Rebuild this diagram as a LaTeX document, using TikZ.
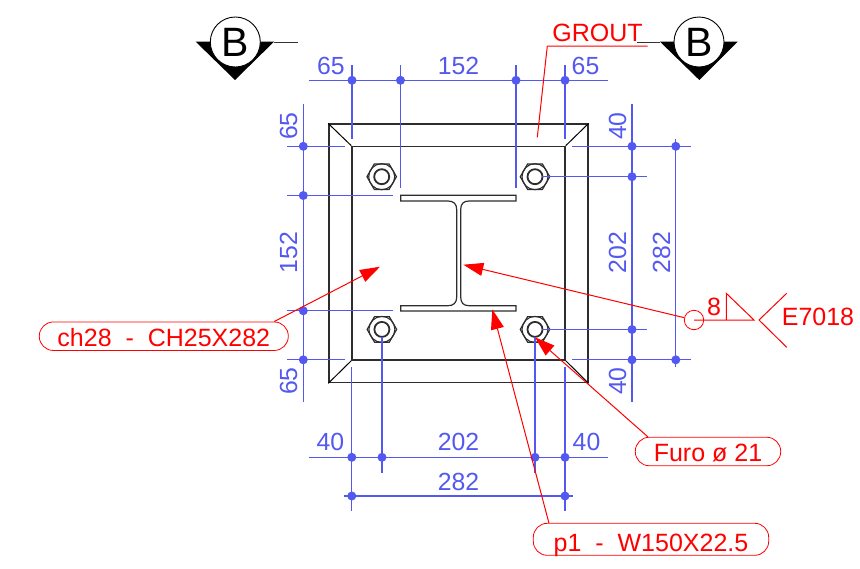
\documentclass[tikz,border=0pt]{standalone}
\usepackage{fontspec}
\setmainfont{Liberation Sans}
\usetikzlibrary{arrows.meta,shapes.geometric}
\definecolor{dimblue}{RGB}{82,88,240}
\definecolor{steelline}{RGB}{45,45,45}
\tikzset{
dimline/.style={draw=dimblue,line width=1.3pt},
dimdot/.style={circle,fill=dimblue,inner sep=0pt,minimum size=9pt},
dimtext/.style={text=dimblue,inner sep=0pt,font=\fontsize{24.8}{24}\selectfont},
platebox/.style={draw=steelline,line width=1.5pt,inner sep=0pt},
platedge/.style={draw=black,line width=1pt},
nuthex/.style={regular polygon,regular polygon sides=6,draw=steelline,line width=1.2pt,inner sep=0pt,minimum size=29.5pt},
nutring/.style={circle,draw=steelline,inner sep=0pt},
bolt/.pic={
  \node[nuthex] (-hex) {};
  \node[nutring,line width=1.1pt,minimum size=26pt] (-chamfer) {};
  \node[nutring,line width=1.8pt,minimum size=15pt] (-hole) {};
},
redline/.style={draw=red,line width=1pt},
leader/.style={redline,-{Triangle[length=20pt,width=13pt]}},
calloutbox/.style={draw=red,line width=.8pt,rounded corners=14pt,inner sep=0pt,minimum height=28.5pt,text height=20pt,text depth=0pt,text=red,font=\fontsize{25}{24}\selectfont},
redtext/.style={text=red,inner sep=0pt,font=\fontsize{25}{24}\selectfont},
secmark/.style={circle,draw=black,fill=white,line width=.9pt,inner sep=0pt,minimum size=50pt,font=\fontsize{41}{41}\selectfont},
}
\begin{document}
\begin{tikzpicture}[x=1pt,y=-1pt]
        \useasboundingbox (0,0) rectangle (860,568);

        \node[platebox,minimum width=258.8pt,minimum height=258.4pt] (outer) at (458.4,253.4) {};
        \node[platebox,minimum width=213pt,minimum height=213.6pt]   (inner) at (458.5,253.2) {};
        \path[platedge] (outer.north west) edge (inner.north west)
                        (outer.north east) edge (inner.north east)
                        (outer.south west) edge (inner.south west)
                        (outer.south east) edge (inner.south east);

        \draw[draw=steelline,line width=1.2pt] (400.7,195.3) -- (516,195.3) -- (516,201) -- (469,201)
          .. controls (463.5,201) and (460.7,203.8) .. (460.7,209.5) -- (460.7,297)
          .. controls (460.7,302.8) and (463.5,305.7) .. (469,305.7) -- (516,305.7) -- (516,311)
          -- (400.7,311) -- (400.7,305.7) -- (448,305.7)
          .. controls (453.5,305.7) and (456.7,302.8) .. (456.7,297) -- (456.7,209.5)
          .. controls (456.7,203.8) and (453.5,201) .. (448,201) -- (400.7,201) -- cycle;

        \pic (boltA) at (381.7,176.7) {bolt};
        \pic (boltB) at (535,176.7)   {bolt};
        \pic (boltC) at (381.9,329.4) {bolt};
        \pic (boltD) at (535,329.4)   {bolt};

        \node[dimdot] (dT1) at (352,80.3)  {};
        \node[dimdot] (dT2) at (400.5,80.3) {};
        \node[dimdot] (dT3) at (516,80.3)  {};
        \node[dimdot] (dT4) at (565,80.3)  {};
        \node[dimdot] (dL1) at (303.3,146.3) {};
        \node[dimdot] (dL2) at (303.3,195.5) {};
        \node[dimdot] (dL3) at (303.3,310.8) {};
        \node[dimdot] (dL4) at (303.3,359.8) {};
        \node[dimdot] (dR1) at (632,146.3) {};
        \node[dimdot] (dR2) at (632,176.7) {};
        \node[dimdot] (dR3) at (632,329.5) {};
        \node[dimdot] (dR4) at (632,359.8) {};
        \node[dimdot] (dO1) at (675.8,146.3) {};
        \node[dimdot] (dO2) at (675.8,359.8) {};
        \node[dimdot] (dB1) at (351.8,457.3) {};
        \node[dimdot] (dB2) at (382,457.3)   {};
        \node[dimdot] (dB3) at (535,457.3)   {};
        \node[dimdot] (dB4) at (565,457.3)   {};
        \node[dimdot] (dE1) at (351.8,496)   {};
        \node[dimdot] (dE2) at (565,496)     {};

        \draw[dimline] (dT1) ++(-43,0) -- ++(299,0);
        \draw[dimline] (dT1) ++(0,-15) -- ++(0,74);
        \draw[dimline] (dT2) ++(0,-15) -- ++(0,123);
        \draw[dimline] (dT3) ++(0,-15) -- ++(0,123);
        \draw[dimline] (dT4) ++(0,-15) -- ++(0,74);

        \draw[dimline] (dL1) ++(0,-42) -- ++(0,298);
        \draw[dimline] (dL1) ++(-16,0) -- ++(58,0);
        \draw[dimline] (dL2) ++(-16,0) -- ++(106,0);
        \draw[dimline] (dL3) ++(-16,0) -- ++(106,0);
        \draw[dimline] (dL4) ++(-16,0) -- ++(58,0);

        \draw[dimline] (dR1) ++(0,-42) -- ++(0,298);
        \draw[dimline] (dO1) ++(0,-7)  -- ++(0,228);
        \draw[dimline] (dO1) ++(-104,0) -- ++(119,0);
        \draw[dimline] (dO2) ++(-104,0) -- ++(119,0);
        \draw[dimline] (dR2) ++(-90.5,0) -- ++(105.5,0);
        \draw[dimline] (dR3) ++(-90.5,0) -- ++(105.5,0);

        \draw[dimline] (dB1) ++(-43,0) -- ++(299,0);
        \draw[dimline] (dE1) ++(-8,0)  -- ++(229,0);
        \draw[dimline] (dB1) ++(0,-90)  -- ++(0,144);
        \draw[dimline] (dB4) ++(0,-90)  -- ++(0,144);
        \draw[dimline] (dB2) ++(0,-120) -- ++(0,136);
        \draw[dimline] (dB3) ++(0,-120) -- ++(0,136);

        \node[dimtext] (topA)   at (331,66)  {65};
        \node[dimtext] (topB)   at (458.5,66) {152};
        \node[dimtext] (topC)   at (585.5,66) {65};
        \node[dimtext,rotate=90] (leftA) at (288.5,126) {65};
        \node[dimtext,rotate=90] (leftB) at (288.5,252.5) {152};
        \node[dimtext,rotate=90] (leftC) at (288.5,381) {65};
        \node[dimtext,rotate=90] (rightA) at (617.5,126) {40};
        \node[dimtext,rotate=90] (rightB) at (617.5,252.5) {202};
        \node[dimtext,rotate=90] (rightC) at (617.5,381) {40};
        \node[dimtext,rotate=90] (farB)   at (661.5,252.5) {282};
        \node[dimtext] (botA)   at (330.5,442) {40};
        \node[dimtext] (botB)   at (458.5,442) {202};
        \node[dimtext] (botC)   at (586.5,442) {40};
        \node[dimtext] (botD)   at (458.5,481.5) {282};

        \draw[draw=black!80,line width=.8pt] (274,42) -- (298,42);
        \draw[draw=black!80,line width=.8pt] (636.7,42) -- (660,42);
        \fill[black] (195.7,41.7) -- (274,41.7) -- (235,80) -- cycle;
        \fill[black] (660,41.7) -- (737.7,41.7) -- (699.3,80) -- cycle;
        \node[secmark] (secL) at (235.3,42) {B};
        \node[secmark] (secR) at (699,42)   {B};

        \coordinate (plateTip)  at (380,266.7);
        \coordinate (webTip)    at (463.3,264.7);
        \coordinate (flangeTip) at (492.3,309.3);
        \coordinate (holeTip)   at (535,337.3);
        \coordinate (groutTip)  at (537.3,137.3);
        \coordinate (groutElb)  at (547.3,46);
        \coordinate (groutEnd)  at (647.5,46);
        \coordinate (weldHeel)  at (726.3,320);
        \coordinate (weldTop)   at (726.3,293.3);
        \coordinate (weldToe)   at (754,320);
        \coordinate (forkRoot)  at (759,320);
        \coordinate (forkUp)    at (786.7,293.3);
        \coordinate (forkDown)  at (786.7,347.3);

        \node[calloutbox,minimum width=249pt] (ch28) at (163.8,336.2) {ch28~~-~~CH25X282};
        \node[calloutbox,minimum width=145.4pt] (furo) at (708,451.5) {Furo ø 21};
        \node[calloutbox,minimum width=235.4pt,minimum height=32pt,text height=24.8pt] (p1) at (651,539.3) {p1~~-~~W150X22.5};
        \node[circle,draw=red,line width=.8pt,inner sep=0pt,minimum size=19.4pt] (weldRing) at (694,320) {};

        \draw[leader] (ch28.north east) ++(-14.5,0) -- (plateTip);
        \draw[leader] (furo.north west) ++(13,0) -- (holeTip);
        \draw[leader] (p1.north west) ++(16,0) -- (flangeTip);
        \draw[leader] (weldRing) -- (webTip);
        \draw[redline] (groutEnd) -- (groutElb) -- (groutTip);
        \draw[redline] (weldRing.center) -- (weldToe) -- (weldTop) -- (weldHeel);
        \draw[redline] (forkUp) -- (forkRoot) -- (forkDown);

        \node[redtext] (grout) at (597.5,33.3) {GROUT};
        \node[redtext] (weldSize) at (714,307.3) {8};
        \node[redtext] (electrode) at (818,317.2) {E7018};
      \end{tikzpicture}
\end{document}
